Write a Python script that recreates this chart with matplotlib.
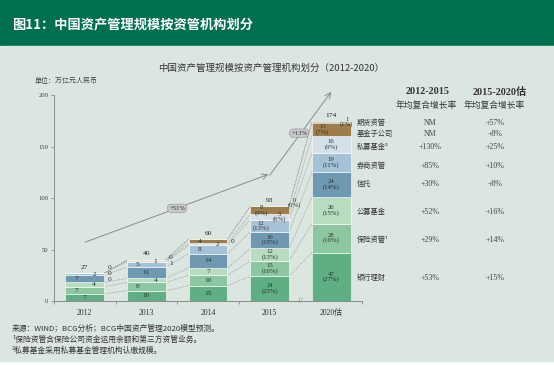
import matplotlib
matplotlib.use('Agg')
import matplotlib.pyplot as plt
import numpy as np
from matplotlib.patches import Rectangle

plt.rcParams['font.family'] = ['Noto Sans CJK SC', 'DejaVu Sans']
SERIF = ['Liberation Serif', 'Noto Sans CJK SC', 'DejaVu Sans']

# data (万亿元人民币), stacked bottom -> top
years = ['2012', '2013', '2014', '2015', '2020估']
categories = ['银行理财', '保险资管¹', '公募基金', '信托', '券商资管', '私募基金²', '基金子公司', '期货资管']
bank = [7, 10, 15, 24, 47]
insurance = [7, 8, 10, 15, 28]
mutual = [4, 4, 7, 12, 26]
trust = [7, 11, 14, 16, 24]
broker = [2, 5, 8, 12, 19]
private = [0, 1, 2, 5, 16]
subsidiary = [0, 1, 4, 8, 13]
futures = [0, 0, 0, 0, 1]
totals = [27, 40, 60, 93, 174]
share_2015 = [25, 16, 13, 18, 13, 6, 9, 0]
share_2020 = [27, 16, 15, 14, 11, 9, 7, 1]
cagr_12_15 = ['+53%', '+29%', '+52%', '+30%', '+85%', '+130%', 'NM', 'NM']
cagr_15_20 = ['+15%', '+14%', '+16%', '+8%', '+10%', '+25%', '+8%', '+57%']
growth_labels = ['+51%', '+13%']

series = [bank, insurance, mutual, trust, broker, private, subsidiary, futures]
colors = ['#5fae84', '#8cc7a2', '#b7dcc0', '#6f98b1', '#a6c2d6', '#d4e1eb',
          '#9e7d4b', '#7a5c31']

# label placement per bar: c=centre, l=left, r=right, o=outside
place = [
    ['c', 'l', 'r', 'l', 'r', 'o', 'o', 'o'],
    ['c', 'l', 'r', 'c', 'l', 'r', 'o', 'o'],
    ['c', 'c', 'c', 'c', 'l', 'r', 'l', 'o'],
    ['c', 'c', 'c', 'c', 'l', 'r', 'l', 'o'],
    ['c', 'c', 'c', 'c', 'c', 'c', 'l', 'e'],
]
outside_dy = {(0, 5): -6, (0, 6): 0, (0, 7): 6, (1, 6): -4, (1, 7): 2,
              (2, 7): -2, (3, 7): 2, (4, 7): 0}
row_nudge = [-1.5, -2, -1.5, 0.5, -3.5, -2.5, -4.5, -0.5]

fig = plt.figure(figsize=(5.54, 3.65), dpi=100)
fig.add_artist(Rectangle((0, 0.874), 1, 0.126, transform=fig.transFigure,
                         color='#006f50', zorder=-10))
fig.add_artist(Rectangle((0, 0.011), 1, 0.863, transform=fig.transFigure,
                         color='#dce6e1', zorder=-10))
fig.text(0.022, 0.934, '图11：中国资产管理规模按资管机构划分', color='white',
         fontsize=9.5, fontweight='bold', va='center')
fig.text(0.49, 0.812, '中国资产管理规模按资产管理机构划分（2012-2020）',
         fontsize=6.8, color='#333333', ha='center', va='center')
fig.text(0.063, 0.778, '单位：万亿元人民币', fontsize=5, color='#444444', va='center')

ax = fig.add_axes([0.0975, 0.1753, 0.556, 0.5644])
ax.set_facecolor('none')

x = np.arange(len(years))
w = 0.63
bottom = np.zeros(len(years))
tops, mids = [], []
for vals, col in zip(series, colors):
    vals = np.array(vals, dtype=float)
    ax.bar(x, vals, w, bottom=bottom, color=col, edgecolor='white',
           linewidth=0.4, zorder=2)
    mids.append(bottom + vals / 2)
    bottom = bottom + vals
    tops.append(bottom.copy())

# dashed connectors between bars
for i in range(len(years) - 1):
    for k in range(len(series)):
        ax.plot([x[i] + w / 2, x[i + 1] - w / 2], [tops[k][i], tops[k][i + 1]],
                ls=(0, (2, 1.5)), color='#9a9a9a', lw=0.5, zorder=1)

# segment labels
for i in range(len(years)):
    for k in range(len(series)):
        v = series[k][i]
        txt = str(v)
        if i == 3:
            txt += '\n(%d%%)' % share_2015[k]
        elif i == 4:
            txt += '\n(%d%%)' % share_2020[k]
        p = place[i][k]
        y = mids[k][i]
        xx = x[i]
        if p == 'l':
            xx = x[i] - w * 0.22
        elif p == 'r':
            xx = x[i] + w * 0.24
        elif p == 'o':
            xx = x[i] + w / 2 + 0.08
            y = totals[i] + outside_dy[(i, k)]
        elif p == 'e':
            xx = x[i] + w * 0.4
            y = totals[i] + outside_dy[(i, k)]
        ax.text(xx, y, txt, ha='center', va='center', fontsize=5.4 if i < 3 else 4.9,
                family=SERIF, color='#28352f', linespacing=0.9, zorder=3, clip_on=False)
    ax.annotate(str(totals[i]), (x[i], bottom[i]), xytext=(0, 2.5),
                textcoords='offset points', ha='center', va='bottom',
                fontsize=5.4, family=SERIF, color='#222222')

# growth arrows
arrow_kw = dict(arrowstyle='->', color='#8a8a8a', lw=0.7, shrinkA=0, shrinkB=0)
ax.annotate('', xy=(2.98, 123), xytext=(0.0, 57), arrowprops=arrow_kw,
            annotation_clip=False)
ax.annotate('', xy=(4.0, 203), xytext=(3.0, 122), arrowprops=arrow_kw,
            annotation_clip=False)
bbox_kw = dict(boxstyle='round,pad=0.25,rounding_size=0.6', fc='#c9c9cf',
               ec='#9a9a9a', lw=0.5)
ax.text(1.5, 90, growth_labels[0], fontsize=4.8, family=SERIF, ha='center',
        va='center', color='#333333', bbox=bbox_kw, zorder=4)
ax.text(3.48, 163, growth_labels[1], fontsize=4.8, family=SERIF, ha='center',
        va='center', color='#333333', bbox=bbox_kw, zorder=4, clip_on=False)

# right side legend + CAGR table
for k in range(len(series)):
    ry = mids[k][4] + row_nudge[k]
    ax.text(4.41, ry, categories[k], fontsize=5.2, color='#333333',
            va='center', ha='left', clip_on=False)
    ax.text(5.61, ry, cagr_12_15[k], fontsize=5.8, family=SERIF, color='#444444',
            va='center', ha='center', clip_on=False)
    ax.text(6.66, ry, cagr_15_20[k], fontsize=5.8, family=SERIF, color='#444444',
            va='center', ha='center', clip_on=False)
ax.text(5.56, 203, '2012-2015', fontsize=7.3, family=SERIF, fontweight='bold',
        color='#333333', ha='center', va='center', clip_on=False)
ax.text(6.73, 203, '2015-2020估', fontsize=7.3, family=SERIF, fontweight='bold',
        color='#333333', ha='center', va='center', clip_on=False)
ax.text(5.54, 190, '年均复合增长率', fontsize=6.3, color='#333333',
        ha='center', va='center', clip_on=False)
ax.text(6.65, 190, '年均复合增长率', fontsize=6.3, color='#333333',
        ha='center', va='center', clip_on=False)

# axes styling
ax.set_xlim(-0.5, 4.5)
ax.set_ylim(0, 200)
ax.set_yticks([0, 50, 100, 150, 200])
ax.set_xticks(x)
ax.set_xticklabels(years, family=SERIF, fontsize=5.6, color='#333333')
ax.set_xticks([-0.5, 0.5, 1.5, 2.5, 4.5], minor=True)
ax.tick_params(axis='x', which='major', length=0, pad=6)
ax.tick_params(axis='x', which='minor', length=2.5, color='#888888', width=0.6)
ax.tick_params(axis='y', length=2, color='#888888', width=0.6, labelsize=4.8,
               labelcolor='#444444', pad=2)
for lab in ax.get_yticklabels():
    lab.set_family(SERIF)
for s in ['top', 'right']:
    ax.spines[s].set_visible(False)
for s in ['left', 'bottom']:
    ax.spines[s].set_color('#8a8a8a')
    ax.spines[s].set_linewidth(0.7)
ax.text(3.5, 0, '//', ha='center', va='center', fontsize=6, color='#777777',
        family=SERIF, zorder=5, clip_on=False)

# footnotes
fig.text(0.022, 0.099, '来源：WIND；BCG分析；BCG中国资产管理2020模型预测。',
         fontsize=5.6, color='#333333', va='center')
fig.text(0.022, 0.068, '¹保险资管含保险公司资金运用余额和第三方资管业务。',
         fontsize=5.6, color='#333333', va='center')
fig.text(0.022, 0.038, '²私募基金采用私募基金管理机构认缴规模。',
         fontsize=5.6, color='#333333', va='center')

fig.savefig('out.png', dpi=100)
